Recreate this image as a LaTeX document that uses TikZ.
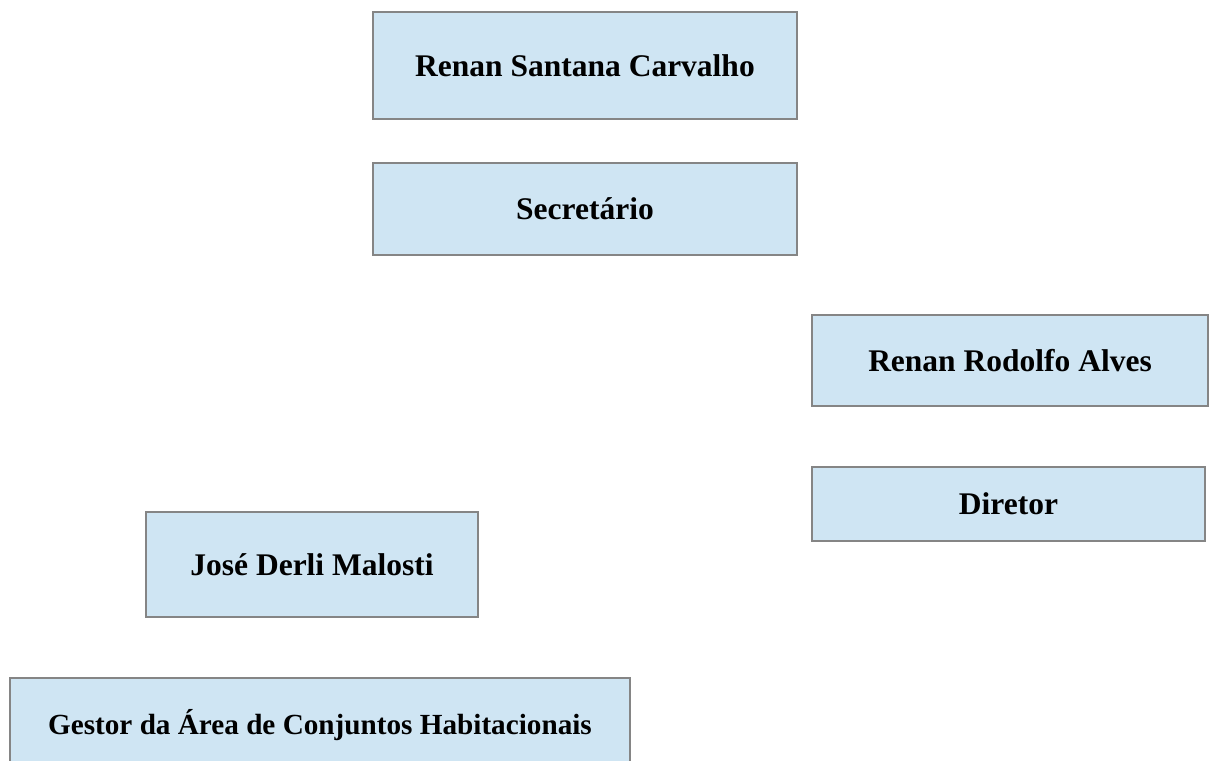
\documentclass[tikz,border=0pt]{standalone}
\usepackage{fontspec}
\setmainfont{Liberation Serif}
\definecolor{boxfill}{HTML}{CFE5F3}
\definecolor{boxline}{HTML}{858585}
\begin{document}
\begin{tikzpicture}[x=1pt,y=-1pt,
  orgbox/.style={draw=boxline, fill=boxfill, line width=1.6pt, rectangle, inner sep=0pt, anchor=center,
    font=\fontsize{31.5}{36}\selectfont\bfseries, text=black}]
\useasboundingbox (0,0) rectangle (1209,760);
\clip (0,0) rectangle (1209,760);
\fill[white] (0,0) rectangle (1209,760);
\node[orgbox, minimum width=424pt, minimum height=107pt] (b1) at (585,65.5) {Renan Santana Carvalho};
\node[orgbox, minimum width=424pt, minimum height=92pt] (b2) at (585,209) {Secretário};
\node[orgbox, minimum width=396pt, minimum height=91pt] (b3) at (1010,360.5) {Renan Rodolfo Alves};
\node[orgbox, minimum width=393pt, minimum height=74pt] (b4) at (1008.5,504) {Diretor};
\node[orgbox, minimum width=332pt, minimum height=105pt] (b5) at (312,564.5) {José Derli Malosti};
\node[orgbox, minimum width=620pt, minimum height=95pt, font=\fontsize{29.2}{34}\selectfont\bfseries] (b6) at (320,725.5) {Gestor da Área de Conjuntos Habitacionais};
\end{tikzpicture}
\end{document}
